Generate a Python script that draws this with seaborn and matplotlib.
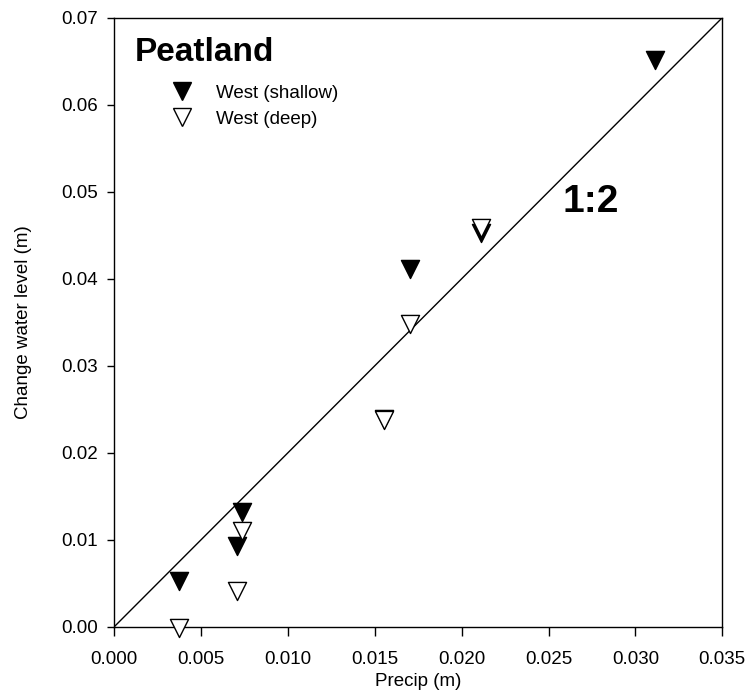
import matplotlib
matplotlib.use("Agg")
import matplotlib.pyplot as plt
import seaborn as sns
import pandas as pd
from matplotlib.lines import Line2D

sns.set_theme(style="ticks")
plt.rcParams['font.family'] = ['Liberation Sans', 'DejaVu Sans']
plt.rcParams['text.color'] = 'black'
plt.rcParams['axes.labelcolor'] = 'black'

shallow_x = [0.00375, 0.00705, 0.00733, 0.0155, 0.0170, 0.0211, 0.0311]
shallow_y = [0.0052, 0.0093, 0.0132, 0.0239, 0.0411, 0.0453, 0.0651]
deep_x = [0.00375, 0.00705, 0.00733, 0.0155, 0.0170, 0.0211]
deep_y = [-0.0002, 0.0041, 0.0110, 0.0237, 0.0348, 0.0458]
line_x = [0.0, 0.035]
line_y = [0.0, 0.07]
xticks = [0.000, 0.005, 0.010, 0.015, 0.020, 0.025, 0.030, 0.035]
yticks = [0.00, 0.01, 0.02, 0.03, 0.04, 0.05, 0.06, 0.07]

df_s = pd.DataFrame({"x": shallow_x, "y": shallow_y})
df_d = pd.DataFrame({"x": deep_x, "y": deep_y})

fig = plt.figure(figsize=(7.51, 6.96), dpi=100)
ax = fig.add_axes([0.1522, 0.0996, 0.8096, 0.8750])

sns.lineplot(x=line_x, y=line_y, ax=ax, color="black", linewidth=1.0)
sns.scatterplot(data=df_s, x="x", y="y", ax=ax, marker="v", s=170,
                color="black", edgecolor="black", linewidth=1.0, zorder=3,
                clip_on=False)
sns.scatterplot(data=df_d, x="x", y="y", ax=ax, marker="v", s=170,
                color="white", edgecolor="black", linewidth=1.0, zorder=4,
                clip_on=False)

ax.set_xlim(0, 0.035)
ax.set_ylim(0, 0.07)
ax.set_xticks(xticks)
ax.set_yticks(yticks)
ax.set_xticklabels([f"{v:.3f}" for v in xticks])
ax.set_yticklabels([f"{v:.2f}" for v in yticks])
ax.tick_params(axis="both", direction="out", width=1.0, labelsize=13.5,
               color="black", labelcolor="black")
ax.tick_params(axis="x", length=6.5, pad=11)
ax.tick_params(axis="y", length=5, pad=7)
for sp in ax.spines.values():
    sp.set_visible(True)
    sp.set_color("black")
    sp.set_linewidth(1.0)

ax.set_xlabel("Precip (m)", fontsize=13.5, color="black", labelpad=3.5)
ax.set_ylabel("Change water level (m)", fontsize=13.5, color="black", labelpad=21)

ax.text(0.034, 0.929, "Peatland", transform=ax.transAxes, fontsize=24,
        fontweight="bold", color="black", va="baseline", ha="left")
ax.text(0.737, 0.697, "1:2", transform=ax.transAxes, fontsize=28,
        fontweight="bold", color="black", va="center", ha="left")

handles = [
    Line2D([], [], linestyle="none", marker="v", markersize=13,
           markerfacecolor="black", markeredgecolor="black", markeredgewidth=1.0),
    Line2D([], [], linestyle="none", marker="v", markersize=13,
           markerfacecolor="white", markeredgecolor="black", markeredgewidth=1.0),
]
ax.legend(handles, ["West (shallow)", "West (deep)"], loc="upper left",
          bbox_to_anchor=(0.080, 0.905), frameon=False, fontsize=13.5,
          handlelength=1.0, handletextpad=1.35, labelspacing=0.45, borderpad=0,
          labelcolor="black")

fig.savefig("out.png", dpi=100, facecolor="white")
